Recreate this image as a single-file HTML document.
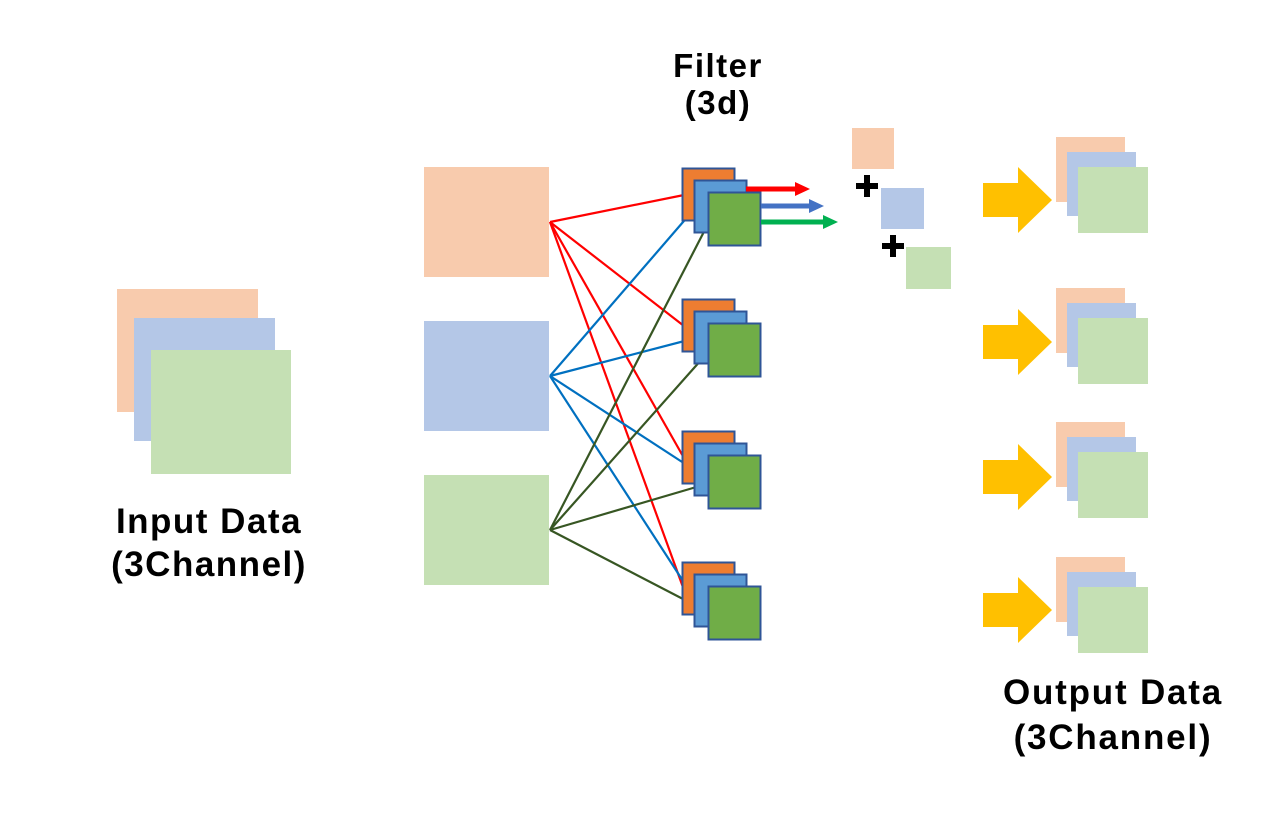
<!DOCTYPE html>
<html><head><meta charset="utf-8"><style>
body{margin:0;background:#fff;width:1280px;height:808px;overflow:hidden}
svg text{font-family:"Liberation Sans","Noto Sans CJK KR",sans-serif;font-weight:bold;fill:#000;text-anchor:middle}
</style></head><body>
<svg width="1280" height="808" viewBox="0 0 1280 808">
<defs>
<g id="fs">
<rect x="682.5" y="0.5" width="52" height="52" fill="#ed7d31" stroke="#2f5597" stroke-width="2"/>
<rect x="694.5" y="12.5" width="52" height="52" fill="#5b9bd5" stroke="#2f5597" stroke-width="2"/>
<rect x="708.5" y="24.5" width="52" height="53" fill="#70ad47" stroke="#2f5597" stroke-width="2"/>
</g>
<g id="os">
<rect x="1056" y="0" width="69" height="65" fill="#f8cbad"/>
<rect x="1067" y="15" width="69" height="64" fill="#b4c7e7"/>
<rect x="1078" y="30" width="70" height="66" fill="#c5e0b4"/>
</g>
<polygon id="ya" points="983,-17 1018,-17 1018,-33 1052,0 1018,33 1018,17 983,17" fill="#ffc000"/>
</defs>
<!-- input -->
<rect x="117" y="289" width="141" height="123" fill="#f8cbad"/>
<rect x="134" y="318" width="141" height="123" fill="#b4c7e7"/>
<rect x="151" y="350" width="140" height="124" fill="#c5e0b4"/>
<text x="209" y="533" font-size="35" letter-spacing="1.5">Input Data</text>
<text x="209" y="576" font-size="35" letter-spacing="1.5">(3Channel)</text>
<!-- middle -->
<rect x="424" y="167" width="125" height="110" fill="#f8cbad"/>
<rect x="424" y="321" width="125" height="110" fill="#b4c7e7"/>
<rect x="424" y="475" width="125" height="110" fill="#c5e0b4"/>
<!-- lines -->
<g stroke-width="2.2" fill="none">
<g stroke="#ff0000">
<line x1="550" y1="222" x2="684" y2="195"/><line x1="550" y1="222" x2="684" y2="326"/>
<line x1="550" y1="222" x2="684" y2="458"/><line x1="550" y1="222" x2="684" y2="590"/></g>
<g stroke="#0070c0">
<line x1="550" y1="376" x2="696" y2="207"/><line x1="550" y1="376" x2="696" y2="338"/>
<line x1="550" y1="376" x2="696" y2="471"/><line x1="550" y1="376" x2="696" y2="601"/></g>
<g stroke="#375623">
<line x1="550" y1="530" x2="710" y2="220"/><line x1="550" y1="530" x2="710" y2="350"/>
<line x1="550" y1="530" x2="710" y2="483"/><line x1="550" y1="530" x2="710" y2="613"/></g>
</g>
<use href="#fs" y="168"/><use href="#fs" y="299"/><use href="#fs" y="431"/><use href="#fs" y="562"/>
<!-- arrows -->
<line x1="746" y1="189" x2="798" y2="189" stroke="#ff0000" stroke-width="5"/>
<polygon points="795,182 810,189 795,196" fill="#ff0000"/>
<line x1="761" y1="206" x2="812" y2="206" stroke="#4472c4" stroke-width="5"/>
<polygon points="809,199 824,206 809,213" fill="#4472c4"/>
<line x1="761" y1="222" x2="826" y2="222" stroke="#00b050" stroke-width="5"/>
<polygon points="823,215 838,222 823,229" fill="#00b050"/>
<text x="718" y="77" font-size="33" letter-spacing="1.5">Filter</text>
<text x="718" y="114" font-size="33" letter-spacing="1.5">(3d)</text>
<rect x="852" y="128" width="42" height="41" fill="#f8cbad"/>
<rect x="881" y="188" width="43" height="41" fill="#b4c7e7"/>
<rect x="906" y="247" width="45" height="42" fill="#c5e0b4"/>
<path d="M867 175v22M856 186h22M893 235v22M882 246h22" stroke="#000" stroke-width="6"/>
<!-- outputs -->
<use href="#ya" y="200"/><use href="#ya" y="342"/><use href="#ya" y="477"/><use href="#ya" y="610"/>
<use href="#os" y="137"/><use href="#os" y="288"/><use href="#os" y="422"/><use href="#os" y="557"/>
<text x="1113" y="704" font-size="35" letter-spacing="1.8">Output Data</text>
<text x="1113" y="749" font-size="35" letter-spacing="1.8">(3Channel)</text>
</svg>
</body></html>
